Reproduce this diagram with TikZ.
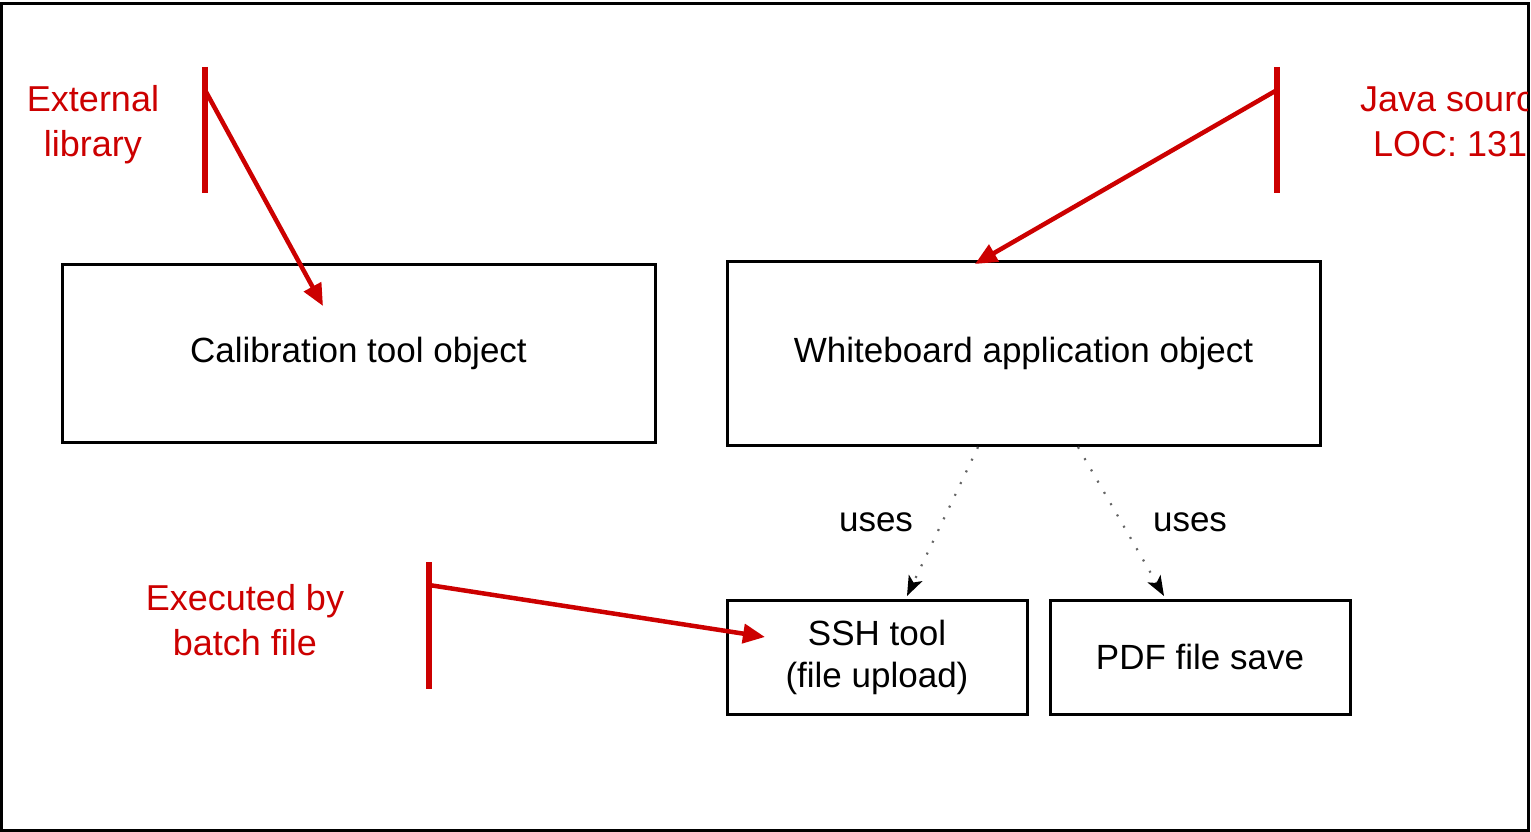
\documentclass[tikz,border=0pt]{standalone}
\usepackage{fontspec}
\setmainfont{Liberation Sans}
\usetikzlibrary{arrows.meta}
\definecolor{annot}{RGB}{204,0,0}
\definecolor{dotgray}{RGB}{100,100,100}
\begin{document}
\begin{tikzpicture}[x=1pt,y=-1pt,
  box/.style={draw=black,line width=3pt,inner sep=0pt,align=center,
    font=\fontsize{35}{42}\selectfont},
  note/.style={text=annot,align=center,inner sep=0pt,
    font=\fontsize{36}{45}\selectfont},
  usestext/.style={inner sep=0pt,font=\fontsize{35}{42}\selectfont},
  bar/.style={draw=annot,line width=5.5pt},
  redarrow/.style={draw=annot,line width=4.5pt,
    -{Triangle[length=22pt,width=19pt]}},
  usesarrow/.style={draw=dotgray,line width=2.2pt,dash pattern=on 2pt off 11pt,
    -{Stealth[length=20pt,width=15pt,inset=5pt,black]}},
]
\useasboundingbox (0,0) rectangle (1531,832);

% frame
\draw[line width=3pt] (1.5,4) rectangle (1528.5,830.5);

% objects
\node[box,minimum width=593pt,minimum height=178pt] (calib) at (358.5,353) {Calibration tool object};
\node[box,minimum width=593pt,minimum height=184pt] (wb) at (1023.5,353) {Whiteboard application object};
\node[box,minimum width=300pt,minimum height=114pt] (ssh) at (877,657) {SSH tool\\(file upload)};
\node[box,minimum width=300pt,minimum height=114pt] (pdf) at (1200,657) {PDF file save};

% "uses" relations
\coordinate (wbL) at (978,447);
\coordinate (wbR) at (1078,447);
\coordinate (sshT) at (907,596);
\coordinate (pdfT) at (1164,596);
\draw[usesarrow] (wbL) -- (sshT);
\draw[usesarrow] (wbR) -- (pdfT);
\node[usestext] (uses1) at (876,522) {uses};
\node[usestext] (uses2) at (1190,522) {uses};

% annotation: external library
\node[note] (extlib) at (93,125) {External\\library};
\coordinate (extbarT) at (205,67);
\coordinate (extbarB) at (205,193);
\coordinate (extfrom) at (205,90);
\coordinate (extto) at (323,306);
\draw[bar] (extbarT) -- (extbarB);
\draw[redarrow] (extfrom) -- (extto);

% annotation: java source (runs past the frame's right edge)
\begin{scope}
\clip (0,0) rectangle (1527,832);
\node[note,anchor=base west] (java1) at (1360,112) {Java source};
\node[note,anchor=base west] (java2) at (1373,157) {LOC: 131};
\end{scope}
\coordinate (javabarT) at (1277,67);
\coordinate (javabarB) at (1277,193);
\coordinate (javafrom) at (1277,90);
\coordinate (javato) at (975,264);
\draw[bar] (javabarT) -- (javabarB);
\draw[redarrow] (javafrom) -- (javato);

% annotation: batch file
\node[note] (batch) at (245,620) {Executed by\\batch file};
\coordinate (batbarT) at (429,562);
\coordinate (batbarB) at (429,689);
\coordinate (batfrom) at (429,585);
\coordinate (batto) at (765,637);
\draw[bar] (batbarT) -- (batbarB);
\draw[redarrow] (batfrom) -- (batto);
\end{tikzpicture}
\end{document}
